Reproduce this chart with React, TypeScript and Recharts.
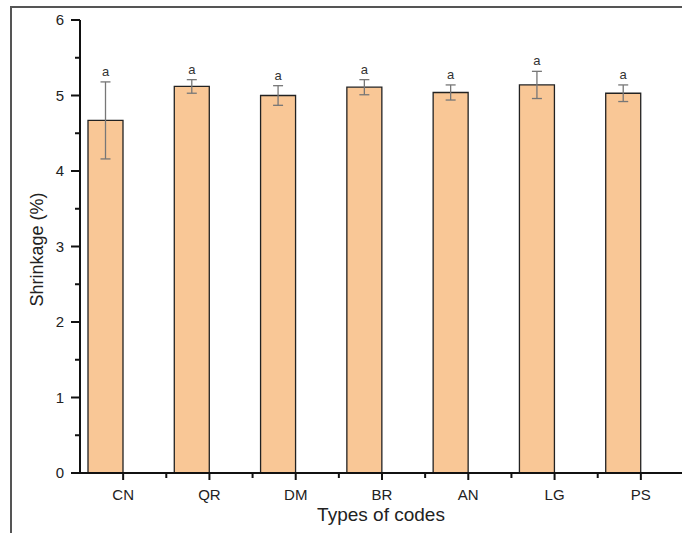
import { BarChart, Bar, XAxis, YAxis, ErrorBar, LabelList, Label } from "recharts";

const codes = ["CN", "QR", "DM", "BR", "AN", "LG", "PS"];
const shrinkage = [4.67, 5.12, 5.0, 5.11, 5.04, 5.14, 5.03];
const errors = [0.51, 0.09, 0.13, 0.1, 0.1, 0.18, 0.11];
const letters = ["a", "a", "a", "a", "a", "a", "a"];
const yTicks = [0, 0.5, 1, 1.5, 2, 2.5, 3, 3.5, 4, 4.5, 5, 5.5, 6];

const data = codes.map((code, i) => ({
  code,
  value: shrinkage[i],
  err: errors[i],
  letter: letters[i],
}));

const font = "'Liberation Sans', Arial, sans-serif";

function YTick({ x, y, payload }: any) {
  const major = Number.isInteger(payload.value);
  return (
    <g>
      <line x1={x} y1={y} x2={x - (major ? 9 : 5)} y2={y} stroke="#111" strokeWidth={2} />
      {major && (
        <text x={x - 16} y={y} dy={5} textAnchor="end" fontSize={15} fill="#222" fontFamily={font}>
          {payload.value}
        </text>
      )}
    </g>
  );
}

// category tick plus a minor tick on the band boundary to its left
function XTick({ x, y, payload, index, width, visibleTicksCount }: any) {
  let half = payload && payload.offset ? payload.offset : 0;
  if (!half && width && visibleTicksCount) half = width / visibleTicksCount / 2;
  return (
    <g>
      <line x1={x} y1={y} x2={x} y2={y + 7} stroke="#111" strokeWidth={2} />
      {index > 0 && half > 0 && (
        <line x1={x - half} y1={y} x2={x - half} y2={y + 5} stroke="#111" strokeWidth={2} />
      )}
      <text x={x} y={y + 27} textAnchor="middle" fontSize={15} fill="#222" fontFamily={font}>
        {payload.value}
      </text>
    </g>
  );
}

function renderLetter(props: any) {
  const vb = props.viewBox || props;
  const { x, y, width, height } = vb;
  const i = props.index;
  const pxPerUnit = height / shrinkage[i];
  const top = y - errors[i] * pxPerUnit;
  return (
    <text x={x + width / 2} y={top - 6} textAnchor="middle" fontSize={13} fill="#333" fontFamily={font}>
      {props.value}
    </text>
  );
}

export default function App() {
  return (
    <div style={{ position: "absolute", left: 0, top: 0, width: 682, height: 533, overflow: "hidden", background: "#fff" }}>
      <div
        style={{
          position: "absolute",
          left: 10,
          top: 6,
          width: 700,
          height: 600,
          borderTop: "2px solid #555",
          borderLeft: "2px solid #555",
        }}
      />
      <div style={{ position: "absolute", left: 0, top: 0 }}>
        <BarChart
          width={700}
          height={533}
          data={data}
          margin={{ top: 20, right: 16, left: 0, bottom: 8 }}
          barGap={0}
          barSize={35}
          style={{ fontFamily: font }}
        >
          <XAxis
            dataKey="code"
            height={52}
            axisLine={{ stroke: "#111", strokeWidth: 2 }}
            tickLine={false}
            tickSize={0}
            tickMargin={0}
            tick={<XTick />}
            interval={0}
          >
            <Label
              content={({ viewBox }: any) => (
                <text
                  x={viewBox.x + viewBox.width / 2 - 1}
                  y={viewBox.y + 48}
                  textAnchor="middle"
                  fontSize={19}
                  fill="#222"
                  fontFamily={font}
                >
                  Types of codes
                </text>
              )}
            />
          </XAxis>
          <YAxis
            width={80}
            domain={[0, 6]}
            ticks={yTicks}
            interval={0}
            tickLine={false}
            tickSize={0}
            tickMargin={0}
            tick={<YTick />}
            axisLine={{ stroke: "#111", strokeWidth: 2 }}
          >
            <Label
              content={({ viewBox }: any) => {
                const cx = 37;
                const cy = viewBox.y + viewBox.height / 2 + 3;
                return (
                  <text
                    x={cx}
                    y={cy}
                    transform={`rotate(-90 ${cx} ${cy})`}
                    textAnchor="middle"
                    dominantBaseline="central"
                    fontSize={18}
                    fill="#222"
                    fontFamily={font}
                  >
                    Shrinkage (%)
                  </text>
                );
              }}
            />
          </YAxis>
          <Bar
            dataKey="value"
            fill="#F9C796"
            stroke="#222"
            strokeWidth={1.3}
            isAnimationActive={false}
          >
            <ErrorBar dataKey="err" width={5} stroke="#777" strokeWidth={1.3} />
            <LabelList dataKey="letter" content={renderLetter} />
          </Bar>
          <Bar dataKey="spacer" fill="none" legendType="none" isAnimationActive={false} />
        </BarChart>
      </div>
    </div>
  );
}
